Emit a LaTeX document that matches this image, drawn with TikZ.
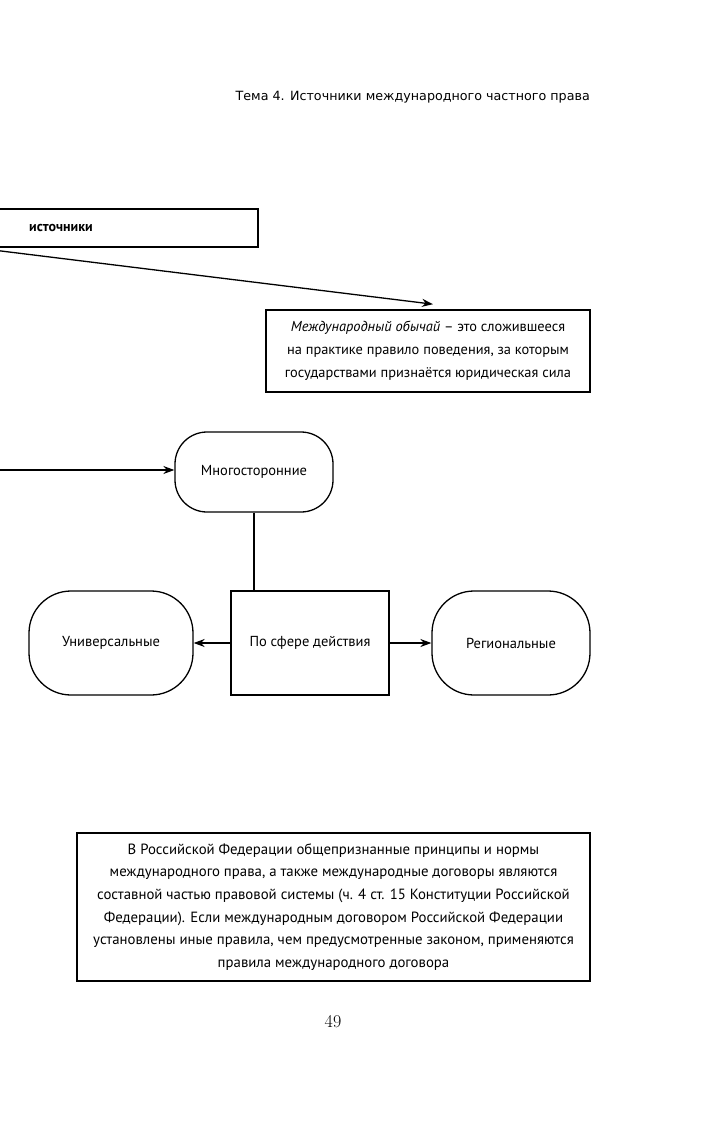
\documentclass[tikz,border=0pt]{standalone}
\usepackage{fontspec}
\setmainfont{PT Sans}
\newfontfamily\hdrfont{DejaVu Sans}
\newfontfamily\numfont{Latin Modern Roman}
\usetikzlibrary{arrows.meta,calc}
\begin{document}
\begin{tikzpicture}[x=1pt,y=-1pt,
  every node/.style={font=\fontsize{14.5}{23}\selectfont, inner sep=0pt},
  sqbox/.style={draw, line width=1.6pt, align=center},
  thickbox/.style={draw, line width=2.4pt, align=center},
  roundbox/.style={draw, line width=1.3pt, rounded corners=#1, align=center},
  conn/.style={line width=1.3pt},
  arr/.style={conn, -{Stealth[length=11pt,width=8pt]}}
]
\useasboundingbox (0,0) rectangle (709,1122);
\clip (0,0) rectangle (709,1122);

\node[anchor=east, font=\hdrfont\fontsize{12.7}{15}\selectfont] (hdr) at (590,97) {Тема 4. Источники международного частного права};

\node[thickbox, anchor=north west, minimum width=277pt, minimum height=38pt,
      text width=181pt, align=left, inner xsep=48pt, font=\bfseries\fontsize{14}{16}\selectfont] (src) at (-20,208) {источники};

\node[sqbox, minimum width=324pt, minimum height=82pt, font=\fontsize{14.4}{23}\selectfont] (custom) at (428,351)
  {\textit{Международный обычай} – это сложившееся\\на практике правило поведения, за которым\\государствами признаётся юридическая сила};

\draw[arr] (src.south west) -- ([xshift=5pt,yshift=5pt]custom.north);

\node[roundbox=32pt, minimum width=158pt, minimum height=80pt] (multi) at (254,472) {Многосторонние};
\coordinate (lin) at (-5,470);
\draw[arr] (lin) -- (lin -| multi.west);

\node[sqbox, line width=1.3pt, minimum width=158pt, minimum height=104pt] (sphere) at (310,643) {По сфере действия};
\node[roundbox=42pt, minimum width=164pt, minimum height=104pt] (univ) at (111,643) {Универсальные};
\node[roundbox=42pt, minimum width=158pt, minimum height=104pt] (reg) at (511,643) {Региональные};

\draw[conn] (multi.south) -- (multi.south |- sphere.north);
\draw[arr] (sphere.west) -- (univ.east);
\draw[arr] (sphere.east) -- (reg.west);

\node[thickbox, minimum width=513pt, minimum height=148pt, font=\fontsize{14.8}{22.6}\selectfont] (rf) at (333.5,907)
  {В Российской Федерации общепризнанные принципы и нормы\\международного права, а также международные договоры являются\\составной частью правовой системы (ч. 4 ст. 15 Конституции Российской\\Федерации). Если международным договором Российской Федерации\\установлены иные правила, чем предусмотренные законом, применяются\\правила международного договора};

\node[font=\numfont\fontsize{18}{20}\selectfont] (pg) at (333,1022) {49};
\end{tikzpicture}
\end{document}
